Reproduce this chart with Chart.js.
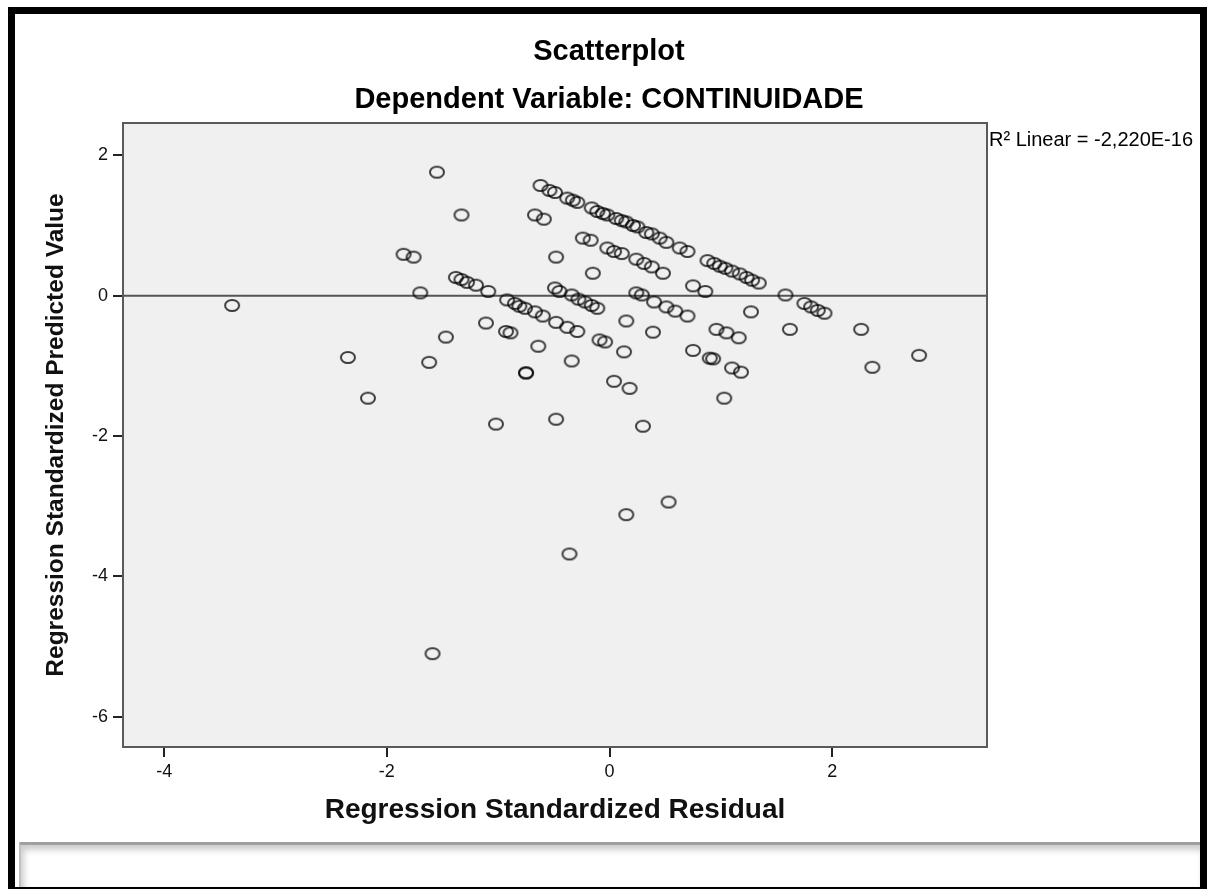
<!DOCTYPE html>
<html>
<head>
<meta charset="utf-8">
<title>Scatterplot</title>
<script src="https://cdn.jsdelivr.net/npm/chart.js@4.4.1/dist/chart.umd.min.js"></script>
<style>
  html, body { margin: 0; padding: 0; background: #fff; }
  #wrap { position: relative; width: 1207px; height: 889px; overflow: hidden; }
  #scatterChart { display: block; }
  #footer { position: absolute; left: 19px; top: 842px; right: 7px; bottom: 2px; background: #fff;
            border-top: 3px solid #a0a0a0; border-left: 2px solid #c0c0c0;
            box-shadow: inset 3px 5px 6px rgba(0,0,0,.2); }
  #frame { position: absolute; left: 8px; top: 7px; right: 0; bottom: 0;
           border: 7px solid #000; border-bottom-width: 2px; pointer-events: none; }
</style>
</head>
<body>
<div id="wrap">
  <canvas id="scatterChart" width="1207" height="889"></canvas>
  <div id="footer"></div>
  <div id="frame"></div>
</div>
<script>
// Regression Standardized Residual (x) / Regression Standardized Predicted Value (y)
const residuals = [
  -0.62, -0.54, -0.49, -0.38, -0.33, -0.29, -0.16, -0.11, -0.06, -0.02, 0.06, 0.11, 0.15, 0.21, 0.25,
  0.33, 0.38, 0.45, 0.51, 0.63, 0.70, 0.88, 0.94, 0.99, 1.04, 1.10, 1.17, 1.23, 1.28, 1.34,
  -0.67, -0.59, -0.24, -0.17, -0.02, 0.04, 0.11, 0.24, 0.31, 0.38, 0.48,
  -1.55, -1.33, -1.85, -1.76, -0.48, -0.15, 0.75, 0.86, 1.58,
  -1.38, -1.33, -1.28, -1.20, -1.09, -1.70, -0.92, -0.85, -0.81, -0.76, -0.67, -0.60,
  -0.49, -0.45, -0.34, -0.28, -0.22, -0.16, -0.11, 0.24, 0.29, 0.40, 0.51, 0.59, 0.70,
  1.75, 1.81, 1.87, 1.93, -3.39,
  -1.11, -0.93, -0.89, -1.47, -0.64, -0.48, -0.38, -0.29, 0.15, 0.39, -0.09, -0.04, 0.13, -0.34,
  1.27, 0.96, 1.05, 1.16, 1.62, 2.26, 0.75, 0.90, 0.93, 1.10, 1.18, 2.36, 2.78,
  -2.35, -1.62, -0.75, -0.75, -2.17, 0.04, 0.18, 1.03, -1.02, -0.48, 0.30, 0.53, 0.15, -0.36, -1.59
];
const predicted = [
  1.57, 1.50, 1.47, 1.39, 1.36, 1.33, 1.25, 1.20, 1.17, 1.15, 1.10, 1.07, 1.05, 1.00, 0.98,
  0.90, 0.88, 0.82, 0.76, 0.68, 0.63, 0.50, 0.46, 0.42, 0.39, 0.35, 0.31, 0.26, 0.22, 0.18,
  1.15, 1.09, 0.82, 0.79, 0.68, 0.63, 0.60, 0.52, 0.46, 0.41, 0.32,
  1.76, 1.15, 0.59, 0.55, 0.55, 0.32, 0.14, 0.06, 0.01,
  0.26, 0.23, 0.19, 0.15, 0.06, 0.04, -0.06, -0.11, -0.15, -0.18, -0.23, -0.29,
  0.11, 0.06, 0.01, -0.05, -0.09, -0.14, -0.18, 0.04, 0.01, -0.09, -0.16, -0.22, -0.29,
  -0.11, -0.16, -0.21, -0.25, -0.14,
  -0.39, -0.51, -0.53, -0.59, -0.72, -0.38, -0.45, -0.51, -0.36, -0.52, -0.63, -0.66, -0.80, -0.93,
  -0.23, -0.48, -0.53, -0.60, -0.48, -0.48, -0.78, -0.89, -0.90, -1.03, -1.09, -1.02, -0.85,
  -0.88, -0.95, -1.10, -1.10, -1.46, -1.22, -1.32, -1.46, -1.83, -1.76, -1.86, -2.94, -3.12, -3.68, -5.10
];
const xTickValues = [-4, -2, 0, 2];
const yTickValues = [2, 0, -2, -4, -6];
const chartTitle = 'Scatterplot';
const chartSubtitle = 'Dependent Variable: CONTINUIDADE';
const xTitle = 'Regression Standardized Residual';
const yTitle = 'Regression Standardized Predicted Value';
const fitLabel = 'R² Linear = -2,220E-16';

const FONT = "'Liberation Sans', Arial, sans-serif";

// open, slightly wide ring like the SPSS marker
const marker = document.createElement('canvas');
marker.width = 18;
marker.height = 15;
const mctx = marker.getContext('2d');
mctx.strokeStyle = 'rgba(0,0,0,0.75)';
mctx.lineWidth = 2;
mctx.beginPath();
mctx.ellipse(9, 7.5, 7, 5.6, 0, 0, Math.PI * 2);
mctx.stroke();

const points = residuals.map((x, i) => ({x: x, y: predicted[i]}));

const plotDecor = {
    id: 'plotDecor',
    beforeDraw(chart) {
        const {ctx, chartArea: a} = chart;
        ctx.save();
        ctx.fillStyle = '#f0f0f0';
        ctx.fillRect(a.left, a.top, a.right - a.left, a.bottom - a.top);
        ctx.restore();
    },
    beforeDatasetsDraw(chart) {
        const {ctx, chartArea: a, scales} = chart;
        const y0 = scales.y.getPixelForValue(0);
        ctx.save();
        ctx.strokeStyle = '#555';
        ctx.lineWidth = 2;
        ctx.beginPath();
        ctx.moveTo(a.left, y0);
        ctx.lineTo(a.right, y0);
        ctx.stroke();
        ctx.restore();
    },
    afterDraw(chart) {
        const {ctx, chartArea: a} = chart;
        ctx.save();
        ctx.strokeStyle = '#5a5a5a';
        ctx.lineWidth = 2;
        ctx.strokeRect(a.left, a.top, a.right - a.left, a.bottom - a.top);
        ctx.fillStyle = '#000';
        ctx.textAlign = 'center';
        ctx.textBaseline = 'middle';
        ctx.font = 'bold 29px ' + FONT;
        ctx.fillText(chartTitle, 609, 52);
        ctx.fillText(chartSubtitle, 609, 100);
        ctx.textAlign = 'left';
        ctx.font = '20px ' + FONT;
        ctx.fillText(fitLabel, a.right + 2, 140);
        ctx.restore();
    }
};

new Chart(document.getElementById('scatterChart'), {
    type: 'scatter',
    data: {
        datasets: [{
            label: 'CONTINUIDADE',
            data: points,
            pointStyle: marker,
            pointRadius: 7,
            pointHoverRadius: 7
        }]
    },
    options: {
        responsive: false,
        animation: false,
        events: [],
        layout: {padding: {left: 20, right: 220, top: 123, bottom: 52}},
        plugins: {
            legend: {display: false},
            tooltip: {enabled: false}
        },
        scales: {
            x: {
                type: 'linear',
                min: -4.37,
                max: 3.39,
                afterBuildTicks: s => { s.ticks = xTickValues.map(v => ({value: v})); },
                afterFit: s => { s.height = 90; },
                grid: {drawOnChartArea: false, drawTicks: true, tickLength: 10, color: '#222', lineWidth: 2},
                border: {display: true, color: '#333', width: 2},
                ticks: {padding: 4, color: '#111', font: {family: FONT, size: 18}},
                title: {
                    display: true, text: xTitle, color: '#111',
                    font: {family: FONT, size: 28, weight: 'bold'},
                    padding: {top: 0, bottom: 10}
                }
            },
            y: {
                type: 'linear',
                min: -6.43,
                max: 2.46,
                afterBuildTicks: s => { s.ticks = yTickValues.map(v => ({value: v})); },
                afterFit: s => { s.width = 103; },
                grid: {drawOnChartArea: false, drawTicks: true, tickLength: 10, color: '#222', lineWidth: 2},
                border: {display: true, color: '#333', width: 2},
                ticks: {padding: 5, color: '#111', font: {family: FONT, size: 18}},
                title: {
                    display: true, text: yTitle, color: '#111',
                    font: {family: FONT, size: 24.5, weight: 'bold'},
                    padding: {top: 22, bottom: 0}
                }
            }
        }
    },
    plugins: [plotDecor]
});
</script>
</body>
</html>
